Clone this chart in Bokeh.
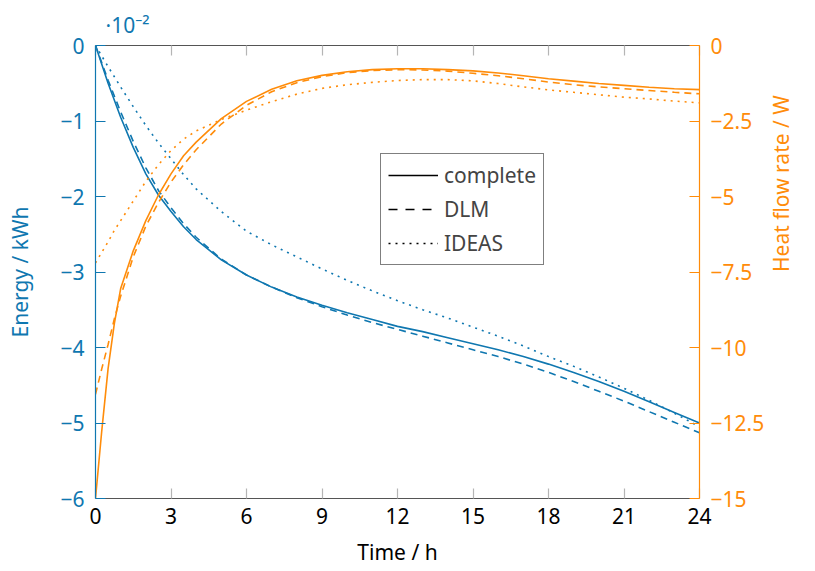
import math
from bokeh.plotting import figure
from bokeh.models import Range1d, LinearAxis, FixedTicker, Legend, LegendItem
from bokeh.embed import file_html
from bokeh.resources import INLINE

BLUE = "#0f77b0"
ORANGE = "#ff8c0a"
GRAY_LINE = "#555555"
GRAY_TICK = "#b5b5b5"
FONT = "Noto Sans"
FS = "21px"

# ---- data ----
time_e = [0, 0.5, 1, 1.5, 2, 2.5, 3, 3.5, 4, 5, 6, 7, 8, 9, 10, 11, 12,
          13, 14, 15, 16, 17, 18, 19, 20, 21, 22, 23, 24]
energy_complete = [0, -0.5, -0.95, -1.35, -1.7, -1.98, -2.2, -2.4, -2.57, -2.84, -3.04,
                   -3.2, -3.33, -3.44, -3.54, -3.63, -3.72, -3.79, -3.87, -3.95, -4.03,
                   -4.12, -4.22, -4.33, -4.45, -4.58, -4.72, -4.86, -5.0]
energy_dlm = [0, -0.46, -0.88, -1.27, -1.62, -1.92, -2.15, -2.36, -2.54, -2.83, -3.04,
              -3.2, -3.34, -3.46, -3.57, -3.67, -3.76, -3.85, -3.94, -4.03, -4.12,
              -4.22, -4.33, -4.45, -4.58, -4.71, -4.85, -4.99, -5.13]
energy_ideas = [0, -0.28, -0.55, -0.81, -1.06, -1.29, -1.5, -1.71, -1.9, -2.2, -2.46,
                -2.64, -2.8, -2.96, -3.11, -3.25, -3.38, -3.5, -3.61, -3.73, -3.85,
                -3.98, -4.12, -4.25, -4.39, -4.54, -4.7, -4.87, -5.05]

time_q = [0, 0.25, 0.5, 0.75, 1, 1.5, 2, 2.5, 3, 3.5, 4, 5, 6, 7, 8, 9, 10, 11, 12,
          13, 14, 15, 16, 17, 18, 19, 20, 21, 22, 23, 24]
heat_complete = [-15, -12.75, -10.7, -9.2, -8.05, -6.8, -5.8, -4.95, -4.25, -3.65, -3.2,
                 -2.42, -1.85, -1.45, -1.17, -0.99, -0.87, -0.8, -0.77, -0.77, -0.8,
                 -0.84, -0.91, -1.0, -1.1, -1.18, -1.26, -1.32, -1.38, -1.43, -1.46]
heat_dlm = [-11.55, -10.7, -9.9, -9.05, -8.3, -7.0, -5.98, -5.2, -4.52, -3.95, -3.45,
            -2.6, -1.98, -1.53, -1.23, -1.03, -0.9, -0.83, -0.8, -0.81, -0.85,
            -0.92, -1.0, -1.1, -1.21, -1.3, -1.37, -1.43, -1.49, -1.55, -1.6]
heat_ideas = [-7.2, -6.85, -6.5, -6.12, -5.8, -5.15, -4.5, -3.95, -3.48, -3.1, -2.83,
              -2.45, -2.14, -1.86, -1.61, -1.42, -1.3, -1.22, -1.16, -1.13, -1.13,
              -1.17, -1.26, -1.37, -1.47, -1.55, -1.63, -1.71, -1.77, -1.84, -1.9]

x_ticks = [0, 3, 6, 9, 12, 15, 18, 21, 24]
x_tick_labels = ["0", "3", "6", "9", "12", "15", "18", "21", "24"]
e_ticks = [0, -1, -2, -3, -4, -5, -6]
e_tick_labels = ["0", "\u22121", "\u22122", "\u22123", "\u22124", "\u22125", "\u22126"]
q_ticks = [0, -2.5, -5, -7.5, -10, -12.5, -15]
q_tick_labels = ["0", "\u22122.5", "\u22125", "\u22127.5", "\u221210", "\u221212.5", "\u221215"]

legend_labels = ["complete", "DLM", "IDEAS"]
energy_multiplier = "\u00b710\u207b\u00b2"

# ---- figure ----
p = figure(width=815, height=571, output_backend="svg", toolbar_location=None,
           x_range=Range1d(0, 24), y_range=Range1d(-6, 0),
           x_axis_location=None, y_axis_location=None,
           min_border_left=95, min_border_right=116, min_border_top=45, min_border_bottom=73)
p.extra_y_ranges = {"q": Range1d(-15, 0)}
p.outline_line_color = None
p.background_fill_color = "white"
p.border_fill_color = "white"
for g in p.grid:
    g.visible = False

p.title.text = energy_multiplier
p.title.align = "left"
p.title.offset = 10
p.title.text_color = BLUE
p.title.text_font = FONT
p.title.text_font_size = FS
p.title.text_font_style = "normal"
p.title.standoff = 13


def style_axis(ax, line_color, tick_color, label_color):
    ax.major_tick_in = 10
    ax.major_tick_out = 0
    ax.minor_tick_line_color = None
    ax.axis_line_color = line_color
    ax.axis_line_width = 1.2
    ax.major_tick_line_color = tick_color
    ax.major_tick_line_width = 1.2
    ax.major_label_text_color = label_color
    ax.major_label_text_font = FONT
    ax.major_label_text_font_size = FS
    ax.axis_label_text_color = label_color
    ax.axis_label_text_font = FONT
    ax.axis_label_text_font_size = FS
    ax.axis_label_text_font_style = "normal"
    ax.major_label_standoff = 11


bottom = LinearAxis(ticker=FixedTicker(ticks=x_ticks),
                    major_label_overrides=dict(zip(x_ticks, x_tick_labels)),
                    axis_label="Time / h")
style_axis(bottom, GRAY_LINE, GRAY_TICK, "black")
bottom.major_label_standoff = 9
bottom.axis_label_standoff = 11
p.add_layout(bottom, "below")

top = LinearAxis(ticker=FixedTicker(ticks=x_ticks),
                 major_label_overrides={t: "" for t in x_ticks})
style_axis(top, GRAY_LINE, GRAY_TICK, "black")
top.major_label_text_font_size = "1px"
top.major_label_standoff = 0
p.add_layout(top, "above")

left = LinearAxis(ticker=FixedTicker(ticks=e_ticks),
                  major_label_overrides=dict(zip(e_ticks, e_tick_labels)),
                  axis_label="Energy / kWh")
style_axis(left, BLUE, BLUE, BLUE)
left.axis_label_standoff = 23
p.add_layout(left, "left")

right = LinearAxis(y_range_name="q", ticker=FixedTicker(ticks=q_ticks),
                   major_label_overrides=dict(zip(q_ticks, q_tick_labels)),
                   axis_label="Heat flow rate / W")
style_axis(right, ORANGE, ORANGE, ORANGE)
right.axis_label_standoff = 14
right.axis_label_orientation = math.pi / 2
p.add_layout(right, "right")

LW = 1.6
DASH = "7 5"
DOT = "2 5"

p.line(time_e, energy_complete, line_color=BLUE, line_width=LW)
p.line(time_e, energy_dlm, line_color=BLUE, line_width=LW, line_dash=DASH)
p.line(time_e, energy_ideas, line_color=BLUE, line_width=LW, line_dash=DOT)

p.line(time_q, heat_complete, line_color=ORANGE, line_width=LW, y_range_name="q")
p.line(time_q, heat_dlm, line_color=ORANGE, line_width=LW, line_dash=DASH, y_range_name="q")
p.line(time_q, heat_ideas, line_color=ORANGE, line_width=LW, line_dash=DOT, y_range_name="q")

# legend samples (black, nothing drawn in the plot)
nan = float("nan")
r_solid = p.line(x=[nan], y=[nan], line_color="black", line_width=1.4)
r_dash = p.line(x=[nan], y=[nan], line_color="black", line_width=1.4, line_dash="9 8")
r_dot = p.line(x=[nan], y=[nan], line_color="black", line_width=1.4, line_dash=DOT)

legend = Legend(items=[LegendItem(label=legend_labels[0], renderers=[r_solid]),
                       LegendItem(label=legend_labels[1], renderers=[r_dash]),
                       LegendItem(label=legend_labels[2], renderers=[r_dot])],
                location=(285, 233), orientation="vertical",
                border_line_color="black", border_line_width=1.2,
                background_fill_color="white", background_fill_alpha=1,
                glyph_width=50, glyph_height=26, label_height=26,
                label_standoff=6, spacing=6, padding=7, margin=0,
                label_text_font=FONT, label_text_font_size=FS)
p.add_layout(legend)

open("out.html", "w").write(file_html(p, INLINE))
